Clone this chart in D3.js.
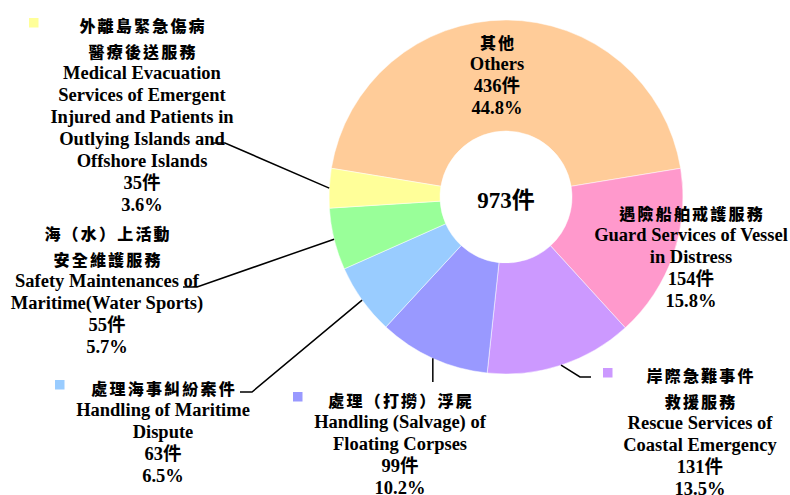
<!DOCTYPE html>
<html>
<head>
<meta charset="utf-8">
<script src="https://cdn.jsdelivr.net/npm/d3@7"></script>
<style>
  html, body { margin: 0; padding: 0; background: #fff; }
  #chart { width: 790px; height: 495px; }
  .zh { font-family: "Noto Sans CJK TC", "Noto Sans CJK SC", sans-serif; font-weight: 900; font-size: 16px; letter-spacing: 2.2px; }
  .en { font-family: "Liberation Serif", "Times New Roman", "Noto Sans CJK TC", serif; font-weight: 700; font-size: 18.5px; }
</style>
</head>
<body>
<div id="chart"></div>
<script>
// Dados
const categoryZh = [
  ["其他"],
  ["遇險船舶戒護服務"],
  ["岸際急難事件", "救援服務"],
  ["處理（打撈）浮屍"],
  ["處理海事糾紛案件"],
  ["海（水）上活動", "安全維護服務"],
  ["外離島緊急傷病", "醫療後送服務"],
];
const categoryEn = [
  ["Others"],
  ["Guard Services of Vessel", "in Distress"],
  ["Rescue Services of", "Coastal Emergency"],
  ["Handling (Salvage) of", "Floating Corpses"],
  ["Handling of Maritime", "Dispute"],
  ["Safety Maintenances of", "Maritime(Water Sports)"],
  ["Medical Evacuation", "Services of Emergent", "Injured and Patients in", "Outlying Islands and", "Offshore Islands"],
];
const cases = [436, 154, 131, 99, 63, 55, 35];
const colors = ["#FFCC99", "#FF99CC", "#CC99FF", "#9999FF", "#99CCFF", "#99FF99", "#FFFF99"];
const unit = "件";

// Posição dos rótulos (centro x, centro y da primeira linha), quadrado e linha guia
const labelLayout = [
  { x: 497, y: 42, square: null, leader: null },
  { x: 691, y: 213, square: null, leader: null },
  { x: 700, y: 375, square: [603, 368], leader: [[580, 377], [591, 377]] },
  { x: 400, y: 400, square: [293, 392], leader: [[null, 382]] },
  { x: 163, y: 388, square: [55, 380], leader: [[252, 392], [240, 392]] },
  { x: 107, y: 233, square: null, leader: [[197, 287], [183, 287]] },
  { x: 142, y: 25, square: [29, 18], leader: [[225, 143], [213, 143]] },
];

function createDonut(containerId) {
  const width = 790, height = 495;
  const cx = 506, cy = 197;
  const outerR = 177, innerR = 66;

  const total = d3.sum(cases);
  const pct = d3.format(".1%");

  const svg = d3.select(containerId)
    .append("svg")
    .attr("width", width)
    .attr("height", height);

  // Primeira fatia centrada no topo
  const offset = (cases[0] / total) * Math.PI;
  const pie = d3.pie().sort(null).startAngle(-offset).endAngle(2 * Math.PI - offset);
  const arc = d3.arc().innerRadius(innerR).outerRadius(outerR);
  const arcs = pie(cases);

  const g = svg.append("g").attr("transform", `translate(${cx},${cy})`);

  g.selectAll("path")
    .data(arcs)
    .enter()
    .append("path")
    .attr("d", arc)
    .attr("fill", (d, i) => colors[i])
    .attr("stroke", "#fff")
    .attr("stroke-width", 0.5);

  // Total no centro
  g.append("text")
    .attr("class", "en")
    .attr("text-anchor", "middle")
    .attr("dominant-baseline", "central")
    .attr("y", 3)
    .style("font-size", "23px")
    .text(total + unit);

  // Linhas guia
  arcs.forEach((d, i) => {
    const lay = labelLayout[i];
    if (!lay.leader) return;
    const mid = (d.startAngle + d.endAngle) / 2;
    const sx = cx + outerR * Math.sin(mid);
    const sy = cy - outerR * Math.cos(mid);
    const pts = [[sx, sy]].concat(lay.leader.map((p) => [p[0] == null ? sx : p[0], p[1]]));
    svg.append("path")
      .attr("d", d3.line()(pts))
      .attr("fill", "none")
      .attr("stroke", "#000")
      .attr("stroke-width", 1.5);
  });

  // Rótulos
  arcs.forEach((d, i) => {
    const lay = labelLayout[i];
    const lines = [];
    categoryZh[i].forEach((t) => lines.push({ t, cls: "zh" }));
    categoryEn[i].forEach((t) => lines.push({ t, cls: "en" }));
    lines.push({ t: cases[i] + unit, cls: "en" });
    lines.push({ t: pct(cases[i] / total), cls: "en" });

    let y = lay.y;
    lines.forEach((ln, k) => {
      if (k > 0) y += (ln.cls === "zh" && lines[k - 1].cls === "zh") ? 25.5 : 22;
      svg.append("text")
        .attr("class", ln.cls)
        .attr("x", ln.cls === "zh" ? lay.x + 1.1 : lay.x)
        .attr("y", y)
        .attr("text-anchor", "middle")
        .attr("dominant-baseline", "central")
        .text(ln.t);
    });

    if (lay.square) {
      svg.append("rect")
        .attr("x", lay.square[0])
        .attr("y", lay.square[1])
        .attr("width", 9.5)
        .attr("height", 9.5)
        .attr("fill", colors[i]);
    }
  });
}

createDonut("#chart");
</script>
</body>
</html>
